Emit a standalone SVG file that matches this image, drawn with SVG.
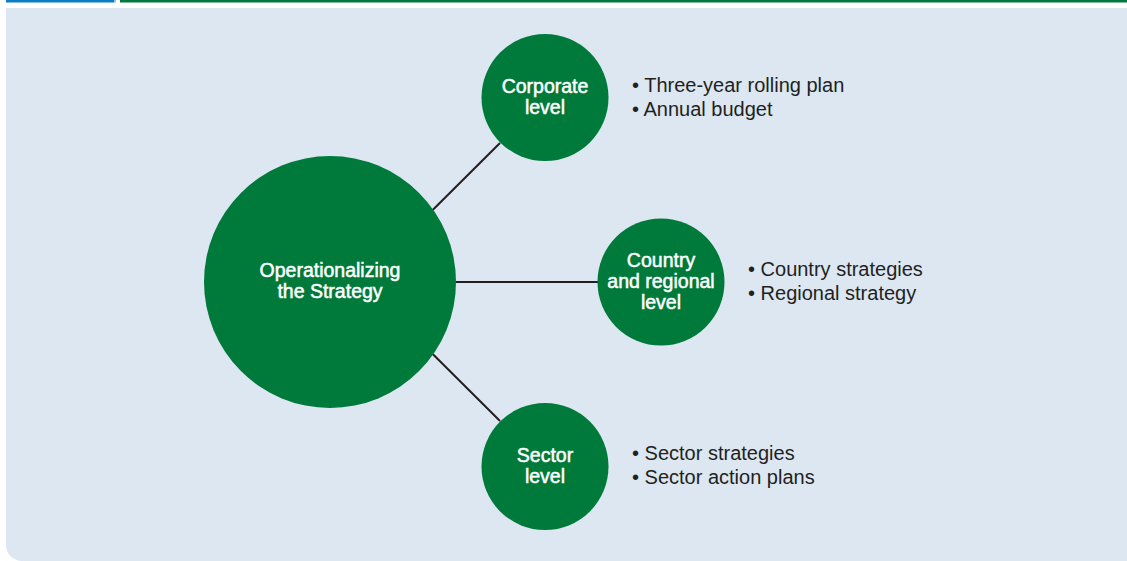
<svg xmlns="http://www.w3.org/2000/svg" width="1127" height="561" viewBox="0 0 1127 561">
<style>
.node{fill:#007a3a}
.nl{font-family:"Liberation Sans",Arial,sans-serif;font-size:19.5px;fill:#ffffff;stroke:#ffffff;stroke-width:0.5;text-anchor:middle}
.bl{font-family:"Liberation Sans",Arial,sans-serif;font-size:20px;fill:#231f20}
.conn{stroke:#231f20;stroke-width:2;fill:none}
</style>
<rect x="0" y="0" width="1127" height="561" fill="#ffffff"/>
<rect x="6" y="0" width="108" height="2.5" fill="#0a7cc2"/>
<rect x="114" y="0" width="2" height="2.5" fill="#8fc3e6"/>
<rect x="120" y="0" width="1007" height="2.5" fill="#00773a"/>
<path d="M6 8 H1127 V561 H22 A16 16 0 0 1 6 545 Z" fill="#dce7f2"/>
<g id="connectors">
<line class="conn" x1="432.7" y1="210" x2="500" y2="143"/>
<line class="conn" x1="456" y1="282" x2="598" y2="282"/>
<line class="conn" x1="432.7" y1="354" x2="500" y2="421"/>
</g>
<g id="operationalizing">
<circle class="node" cx="330" cy="282" r="126"/>
<text class="nl" x="330" y="277">Operationalizing</text>
<text class="nl" x="330" y="298">the Strategy</text>
</g>
<g id="corporate">
<circle class="node" cx="545" cy="97.5" r="63.5"/>
<text class="nl" x="545" y="93">Corporate</text>
<text class="nl" x="545" y="114">level</text>
</g>
<g id="country">
<circle class="node" cx="661" cy="282" r="63.5"/>
<text class="nl" x="661" y="267">Country</text>
<text class="nl" x="661" y="288">and regional</text>
<text class="nl" x="661" y="309">level</text>
</g>
<g id="sector">
<circle class="node" cx="545" cy="466.5" r="63.5"/>
<text class="nl" x="545" y="462">Sector</text>
<text class="nl" x="545" y="483">level</text>
</g>
<g id="corporate-items">
<text class="bl" x="632" y="92">• Three-year rolling plan</text>
<text class="bl" x="632" y="116">• Annual budget</text>
</g>
<g id="country-items">
<text class="bl" x="748" y="276">• Country strategies</text>
<text class="bl" x="748" y="300">• Regional strategy</text>
</g>
<g id="sector-items">
<text class="bl" x="632" y="460">• Sector strategies</text>
<text class="bl" x="632" y="484">• Sector action plans</text>
</g>
</svg>
